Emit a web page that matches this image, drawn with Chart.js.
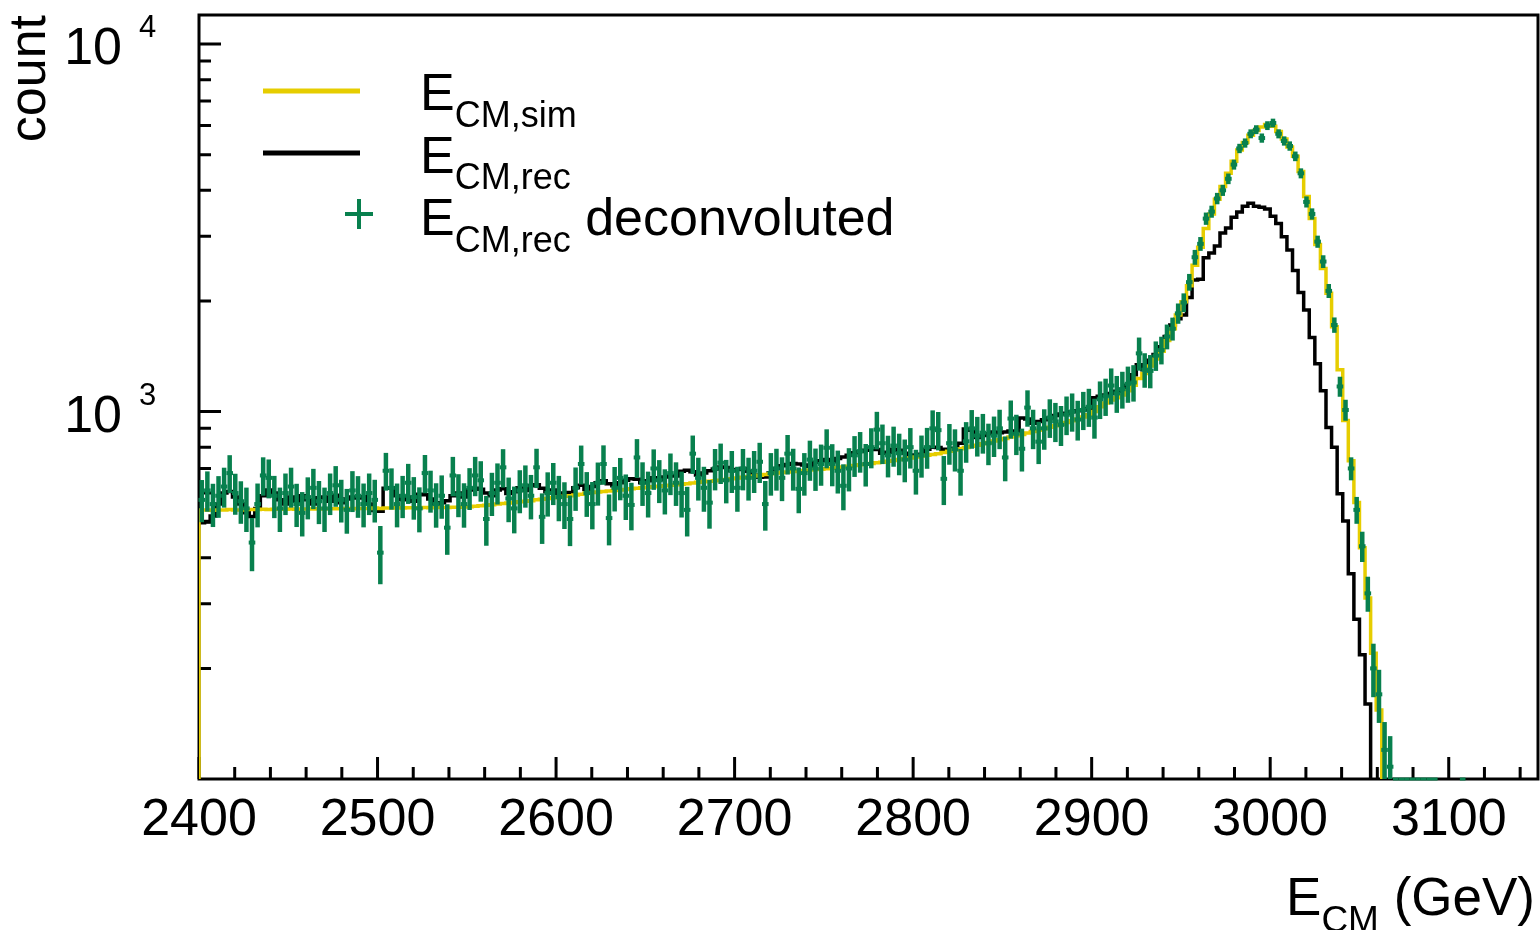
<!DOCTYPE html>
<html>
<head>
<meta charset="utf-8">
<script src="https://cdn.jsdelivr.net/npm/chart.js@4.4.1/dist/chart.umd.min.js"></script>
<style>
  html, body { margin: 0; padding: 0; background: #fff; }
  canvas { display: block; }
</style>
</head>
<body>
<canvas id="chart" width="1540" height="930"></canvas>
<script>
// 240 bins of 3.125 GeV from 2400 to 3150 GeV
const binLow = 2400;
const binWidth = 3.125;

const simCounts = [
  540, 540, 539, 540, 540, 541, 540, 540, 541, 541,
  541, 542, 541, 542, 542, 542, 543, 542, 543, 543,
  543, 544, 543, 544, 544, 544, 545, 544, 545, 545,
  545, 546, 545, 546, 546, 547, 546, 547, 547, 547,
  548, 547, 548, 548, 548, 549, 549, 550, 551, 552,
  554, 556, 558, 560, 562, 564, 566, 568, 570, 572,
  575, 577, 580, 583, 585, 588, 590, 593, 596, 600,
  602, 604, 606, 608, 610, 612, 614, 616, 618, 620,
  622, 624, 626, 628, 630, 632, 634, 636, 639, 642,
  644, 646, 648, 650, 653, 656, 659, 662, 665, 668,
  671, 674, 677, 680, 683, 685, 687, 689, 691, 693,
  695, 697, 699, 701, 704, 707, 710, 713, 716, 719,
  722, 725, 728, 732, 736, 740, 744, 748, 752, 756,
  760, 764, 768, 774, 780, 786, 792, 798, 804, 810,
  817, 824, 831, 838, 845, 852, 859, 866, 874, 882,
  890, 898, 906, 915, 924, 934, 944, 955, 967, 980,
  1000, 1030, 1055, 1075, 1090, 1110, 1140, 1180, 1230, 1270,
  1330, 1390, 1460, 1560, 1680, 1830, 1990, 2200, 2500, 2800,
  3150, 3450, 3780, 4100, 4450, 4800, 5150, 5400, 5650, 5820,
  5950, 6040, 5980, 5780, 5520, 5250, 4950, 4500, 3850, 3350,
  2850, 2450, 2100, 1700, 1300, 945, 735, 566, 426, 311,
  220, 154, 0, 0, 0, 0, 0, 0, 0, 0,
  0, 0, 0, 0, 0, 0, 0, 0, 0, 0,
  0, 0, 0, 0, 0, 0, 0, 0, 0, 0
];

const recCounts = [
  498, 502, 520, 560, 600, 606, 585, 560, 530, 518,
  545, 590, 612, 600, 575, 560, 585, 570, 590, 575,
  560, 583, 585, 570, 592, 565, 578, 585, 582, 586,
  560, 538, 535, 618, 620, 590, 575, 585, 570, 596,
  594, 578, 560, 565, 572, 590, 600, 585, 612, 618,
  615, 600, 590, 612, 616, 598, 605, 620, 610, 628,
  632, 618, 605, 612, 598, 600, 602, 620, 630, 615,
  625, 640, 648, 636, 628, 640, 650, 656, 654, 640,
  648, 660, 652, 664, 670, 668, 688, 692, 686, 672,
  680, 690, 698, 706, 704, 690, 695, 700, 688, 672,
  662, 664, 680, 700, 712, 718, 722, 720, 715, 710,
  728, 735, 740, 730, 745, 752, 760, 772, 778, 785,
  792, 788, 770, 775, 790, 785, 770, 762, 758, 765,
  790, 800, 798, 790, 785, 795, 820, 896, 890, 850,
  860, 870, 880, 875, 880, 885, 878, 960, 955, 930,
  940, 950, 960, 975, 985, 990, 998, 1005, 1010, 1020,
  1090, 1100, 1110, 1120, 1135, 1150, 1180, 1260, 1340, 1300,
  1380, 1430, 1500, 1600, 1720, 1790, 1830, 2045, 2280, 2290,
  2620, 2700, 2820, 3060, 3160, 3380, 3490, 3620, 3690, 3620,
  3600, 3560, 3400, 3250, 2990, 2750, 2420, 2110, 1890, 1590,
  1350, 1140, 905, 800, 597, 504, 362, 272, 218, 160,
  0, 0, 0, 0, 0, 0, 0, 0, 0, 0,
  0, 0, 0, 0, 0, 0, 0, 0, 0, 0,
  0, 0, 0, 0, 0, 0, 0, 0, 0, 0
];

// null = no point drawn, 0 = point below the axis (drawn on the frame)
const deconvCounts = [
  575, 610, 560, 590, 625, 680, 600, 570, 545, 440,
  560, 670, 660, 590, 545, 600, 625, 560, 530, 585,
  620, 570, 545, 600, 630, 575, 540, 610, 590, 560,
  600, 575, 413, 690, 620, 560, 590, 640, 585, 545,
  680, 610, 560, 590, 483, 670, 595, 560, 620, 670,
  650, 510, 600, 640, 705, 580, 545, 610, 630, 590,
  705, 517, 600, 640, 585, 560, 510, 620, 720, 600,
  560, 640, 720, 513, 620, 660, 590, 557, 750, 640,
  600, 700, 650, 610, 680, 640, 600, 540, 768, 660,
  620, 565, 700, 726, 650, 690, 620, 700, 660, 690,
  730, 560, 680, 700, 660, 768, 700, 616, 680, 740,
  700, 720, 797, 720, 690, 628, 700, 760, 780, 720,
  800, 893, 820, 760, 808, 770, 740, 800, 690, 760,
  800, 900, 890, 656, 820, 790, 690, 830, 900, 860,
  876, 820, 860, 900, 750, 957, 870, 792, 1025, 900,
  828, 900, 963, 940, 920, 980, 1000, 951, 1010, 1030,
  963, 1080, 1100, 1177, 1120, 1150, 1190, 1200, 1440, 1300,
  1290, 1420, 1470, 1600, 1680, 1850, 1980, 2250, 2630, 2860,
  3350, 3500, 3800, 4000, 4300, 4700, 5200, 5380, 5700, 5850,
  5550, 6000, 6100, 5700, 5450, 5280, 4950, 4450, 3720, 3450,
  2900, 2560, 2130, 1720, 1170, 1010, 700, 540, 430, 320,
  200, 170, 120, 108, 0, 0, 0, 0, 0, 0,
  0, 0, null, null, null, null, 0, null, null, null,
  null, null, null, null, null, null, null, null, null, null
];

const deconvErrors = [
  72, 73, 72, 73, 74, 76, 73, 72, 72, 70,
  73, 76, 76, 74, 72, 74, 74, 72, 70, 73,
  74, 73, 72, 74, 76, 73, 72, 74, 73, 73,
  74, 73, 72, 77, 76, 73, 74, 76, 74, 73,
  77, 76, 74, 76, 73, 78, 76, 74, 77, 78,
  78, 76, 77, 78, 80, 77, 76, 78, 79, 78,
  82, 78, 79, 80, 79, 78, 77, 80, 83, 80,
  79, 82, 84, 78, 82, 83, 80, 79, 86, 83,
  82, 84, 83, 82, 84, 83, 82, 80, 87, 84,
  83, 82, 86, 87, 84, 86, 83, 86, 84, 86,
  87, 83, 86, 87, 86, 90, 87, 84, 86, 88,
  88, 88, 92, 90, 88, 86, 90, 92, 94, 91,
  95, 99, 96, 94, 96, 95, 94, 96, 92, 95,
  97, 101, 101, 96, 99, 99, 96, 100, 103, 101,
  103, 101, 103, 105, 100, 108, 104, 101, 110, 105,
  104, 108, 110, 109, 109, 112, 113, 112, 114, 116,
  114, 120, 121, 125, 122, 125, 127, 129, 140, 132,
  126, 122, 118, 114, 110, 106, 104, 104, 106, 106,
  108, 110, 112, 114, 116, 118, 120, 122, 124, 126,
  126, 128, 128, 126, 124, 122, 118, 112, 106, 100,
  92, 86, 80, 72, 66, 60, 46, 42, 38, 33,
  32, 27, 22, 22, 0, 0, 0, 0, 0, 0,
  0, 0, 0, 0, 0, 0, 0, 0, 0, 0,
  0, 0, 0, 0, 0, 0, 0, 0, 0, 0
];

const xMajorTicks = [2400, 2500, 2600, 2700, 2800, 2900, 3000, 3100];
const xMinorStep = 20;
const yMajorTicks = [1000, 10000];
const yMajorExponents = ["3", "4"];
const yMinorTicks = [200, 300, 400, 500, 600, 700, 800, 900, 2000, 3000, 4000, 5000, 6000, 7000, 8000, 9000];

const legendEntries = [
  { sub: "CM,sim", tail: "" },
  { sub: "CM,rec", tail: "" },
  { sub: "CM,rec", tail: " deconvoluted" }
];

const simColor = "#e6cd00";
const recColor = "#000000";
const deconvColor = "#08804e";
const font = "'Liberation Sans', Arial, Helvetica, sans-serif";
const belowAxis = 0.01; // empty bins on the log scale

function histLine(counts, openLeft) {
  const pts = [];
  if (openLeft) pts.push({ x: binLow - binWidth, y: belowAxis });
  counts.forEach(function(c, k) {
    pts.push({ x: binLow + k * binWidth, y: c > 0 ? c : belowAxis });
  });
  const last = counts[counts.length - 1];
  pts.push({ x: binLow + counts.length * binWidth, y: last > 0 ? last : belowAxis });
  return pts;
}

function deconvPoints() {
  const pts = [];
  deconvCounts.forEach(function(c, k) {
    if (c !== null) pts.push({ x: binLow + (k + 0.5) * binWidth, y: c });
  });
  return pts;
}

function line(ctx, x1, y1, x2, y2) {
  ctx.beginPath();
  ctx.moveTo(x1, y1);
  ctx.lineTo(x2, y2);
  ctx.stroke();
}

// E with a subscript, followed by optional plain text
function drawSubscripted(ctx, x, baseline, size, sub, tail) {
  ctx.font = size + "px " + font;
  ctx.fillText("E", x, baseline);
  let cx = x + ctx.measureText("E").width;
  const subSize = Math.round(size * 0.7);
  ctx.font = subSize + "px " + font;
  ctx.fillText(sub, cx, baseline + 16.5);
  cx += ctx.measureText(sub).width;
  if (tail) {
    ctx.font = size + "px " + font;
    ctx.fillText(tail, cx, baseline);
  }
}

const rootStyle = {
  id: "rootStyle",
  beforeDatasetsDraw(chart) {
    const ctx = chart.ctx;
    const a = chart.chartArea;
    const xs = chart.scales.x;
    const ys = chart.scales.y;
    ctx.save();
    ctx.strokeStyle = "#000";
    ctx.lineWidth = 3;
    ctx.strokeRect(a.left, a.top, a.right - a.left, a.bottom - a.top);

    ctx.lineWidth = 3;
    ctx.beginPath();
    for (let v = binLow; v <= xs.max; v += xMinorStep) {
      const px = xs.getPixelForValue(v);
      const len = xMajorTicks.includes(v) ? 22 : 12;
      ctx.moveTo(px, a.bottom);
      ctx.lineTo(px, a.bottom - len);
    }
    yMajorTicks.forEach(function(v) {
      const py = ys.getPixelForValue(v);
      ctx.moveTo(a.left, py);
      ctx.lineTo(a.left + 22, py);
    });
    yMinorTicks.forEach(function(v) {
      const py = ys.getPixelForValue(v);
      ctx.moveTo(a.left, py);
      ctx.lineTo(a.left + 12, py);
    });
    ctx.stroke();
    ctx.restore();
  },
  afterDatasetsDraw(chart) {
    const ctx = chart.ctx;
    const a = chart.chartArea;
    const xs = chart.scales.x;
    const ys = chart.scales.y;
    ctx.save();
    ctx.strokeStyle = deconvColor;
    ctx.lineCap = "butt";
    deconvCounts.forEach(function(c, k) {
      if (c === null) return;
      const xl = xs.getPixelForValue(binLow + k * binWidth);
      const xr = xs.getPixelForValue(binLow + (k + 1) * binWidth);
      const xc = (xl + xr) / 2;
      if (c <= 0) {
        ctx.lineWidth = 3;
        line(ctx, xl, a.bottom, xr, a.bottom);
        return;
      }
      const err = deconvErrors[k];
      const yc = ys.getPixelForValue(c);
      const yHi = Math.max(a.top, ys.getPixelForValue(c + err));
      const yLo = c - err > 0 ? Math.min(a.bottom, ys.getPixelForValue(c - err)) : a.bottom;
      ctx.lineWidth = 4.5;
      line(ctx, xc, yHi - 1, xc, Math.min(yLo + 1, a.bottom));
      if (yc <= a.bottom) {
        ctx.lineWidth = 4;
        line(ctx, xl - 0.5, yc, xr + 0.5, yc);
      }
    });
    ctx.restore();
  },
  afterDraw(chart) {
    const ctx = chart.ctx;
    const a = chart.chartArea;
    const xs = chart.scales.x;
    const ys = chart.scales.y;
    ctx.save();
    ctx.fillStyle = "#000";

    // x tick labels
    ctx.font = "52px " + font;
    ctx.textAlign = "center";
    ctx.textBaseline = "alphabetic";
    xMajorTicks.forEach(function(v) {
      ctx.fillText(String(v), xs.getPixelForValue(v), 835);
    });

    // y tick labels 10^n
    yMajorTicks.forEach(function(v, i) {
      const py = ys.getPixelForValue(v);
      ctx.font = "52px " + font;
      ctx.textAlign = "right";
      ctx.fillText("10", 122, py + 20);
      ctx.font = "31px " + font;
      ctx.textAlign = "left";
      ctx.fillText(yMajorExponents[i], 139, py - 7);
    });

    // y title
    ctx.save();
    ctx.translate(45, a.top);
    ctx.rotate(-Math.PI / 2);
    ctx.font = "52px " + font;
    ctx.textAlign = "right";
    ctx.fillText("count", 0, 0);
    ctx.restore();

    // x title: E_CM (GeV), right aligned
    ctx.textAlign = "left";
    ctx.font = "53px " + font;
    const wE = ctx.measureText("E").width;
    const wTail = ctx.measureText(" (GeV)").width;
    ctx.font = "37px " + font;
    const wSub = ctx.measureText("CM").width;
    const startX = 1535 - wE - wSub - wTail;
    ctx.font = "53px " + font;
    ctx.fillText("E", startX, 915);
    ctx.font = "37px " + font;
    ctx.fillText("CM", startX + wE, 931.5);
    ctx.font = "53px " + font;
    ctx.fillText(" (GeV)", startX + wE + wSub, 915);

    // legend
    ctx.lineCap = "butt";
    ctx.lineWidth = 5;
    ctx.strokeStyle = simColor;
    line(ctx, 263, 91, 360, 91);
    ctx.strokeStyle = recColor;
    line(ctx, 263, 153, 360, 153);
    ctx.strokeStyle = deconvColor;
    ctx.lineWidth = 4;
    line(ctx, 345, 214, 373, 214);
    line(ctx, 359, 199, 359, 229);

    ctx.fillStyle = "#000";
    ctx.textAlign = "left";
    legendEntries.forEach(function(e, i) {
      drawSubscripted(ctx, 420, 110 + i * 62.5, 52, e.sub, e.tail);
    });
    ctx.restore();
  }
};

new Chart(document.getElementById("chart"), {
  type: "line",
  data: {
    datasets: [
      {
        label: "E_CM,rec deconvoluted",
        data: deconvPoints(),
        showLine: false,
        pointRadius: 0,
        borderColor: deconvColor,
        order: 0
      },
      {
        label: "E_CM,sim",
        data: histLine(simCounts, true),
        stepped: "before",
        borderColor: simColor,
        borderWidth: 3.5,
        pointRadius: 0,
        fill: false,
        order: 1
      },
      {
        label: "E_CM,rec",
        data: histLine(recCounts, false),
        stepped: "before",
        borderColor: recColor,
        borderWidth: 3.5,
        pointRadius: 0,
        fill: false,
        order: 2
      }
    ]
  },
  options: {
    responsive: false,
    animation: false,
    devicePixelRatio: 1,
    events: [],
    layout: { padding: { left: 199, right: 2, top: 15, bottom: 151 } },
    plugins: {
      legend: { display: false },
      tooltip: { enabled: false }
    },
    scales: {
      x: { type: "linear", min: 2400, max: 3150, display: false },
      y: { type: "logarithmic", min: 100, max: 12000, display: false }
    }
  },
  plugins: [rootStyle]
});
</script>
</body>
</html>
